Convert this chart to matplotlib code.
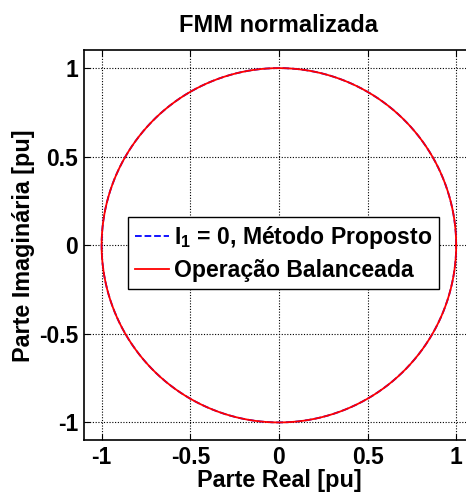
import numpy as np
import matplotlib
matplotlib.use('Agg')
import matplotlib.pyplot as plt

plt.rcParams['font.family'] = ['Liberation Sans', 'DejaVu Sans']
plt.rcParams['font.weight'] = 'bold'
plt.rcParams['mathtext.fontset'] = 'custom'
plt.rcParams['mathtext.rm'] = 'Liberation Sans:bold'
plt.rcParams['mathtext.bf'] = 'Liberation Sans:bold'

#%% dados: FMM normalizada no plano complexo

theta = np.linspace(0, 2*np.pi, 361)
fmm_proposto = np.exp(1j*theta)       # I1 = 0, metodo proposto
fmm_balanceada = np.exp(1j*theta)     # operacao balanceada

ticks = [-1, -0.5, 0, 0.5, 1]
tick_labels = ['-1', '-0.5', '0', '0.5', '1']

#%% figura

fig = plt.figure(figsize=(4.66, 4.94), dpi=100)
ax = fig.add_axes([0.180, 0.109, 0.837, 0.789])

ax.plot(fmm_proposto.real, fmm_proposto.imag, '--', color='blue', lw=1.3,
        label=r'I$_\mathbf{1}$ = 0, Método Proposto')
ax.plot(fmm_balanceada.real, fmm_balanceada.imag, '-', color='red', lw=1.3,
        label='Operação Balanceada')

ax.set_xlim(-1.1, 1.1)
ax.set_ylim(-1.1, 1.1)
ax.set_xticks(ticks)
ax.set_xticklabels(tick_labels)
ax.set_yticks(ticks)
ax.set_yticklabels(tick_labels)
ax.tick_params(direction='in', top=True, right=True, labelsize=16.5, length=4, pad=4)
ax.grid(True, color='black', linestyle=(0, (1, 1.5)), linewidth=0.8)
for s in ax.spines.values():
    s.set_linewidth(1.2)

ax.set_title('FMM normalizada', fontsize=17, fontweight='bold', pad=13)
ax.set_xlabel('Parte Real [pu]', fontsize=16.8, fontweight='bold', labelpad=0)
ax.set_ylabel('Parte Imaginária [pu]', fontsize=16.8, fontweight='bold', labelpad=3)

leg = ax.legend(loc='center', bbox_to_anchor=(0.512, 0.48), fontsize=16.6,
                handlelength=1.5, handletextpad=0.2, borderpad=0.3,
                labelspacing=0.35, borderaxespad=0, fancybox=False, framealpha=1)
leg.get_frame().set_edgecolor('black')
leg.get_frame().set_linewidth(1.0)

fig.savefig('out.png', dpi=100)
